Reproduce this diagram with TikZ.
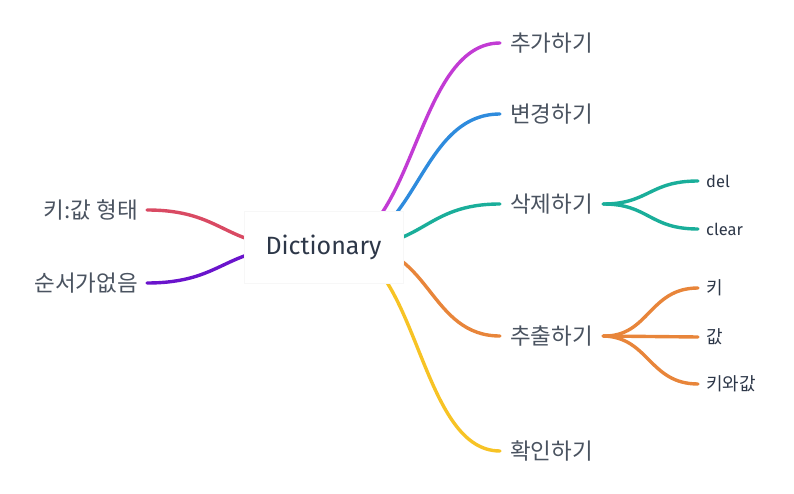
\documentclass[tikz,border=0pt]{standalone}
\usepackage{fontspec}
\setmainfont{Noto Sans CJK KR}
\newfontfamily\latinf{Fira Sans}
\usetikzlibrary{shadows}
\definecolor{cPurple}{HTML}{C23BD4}
\definecolor{cBlue}{HTML}{2E8BDD}
\definecolor{cTeal}{HTML}{1AAE9A}
\definecolor{cOrange}{HTML}{E8853A}
\definecolor{cYellow}{HTML}{F7C325}
\definecolor{cRed}{HTML}{D94A63}
\definecolor{cViolet}{HTML}{6A14CC}
\definecolor{txtMain}{HTML}{4A5360}
\definecolor{txtDark}{HTML}{2D3748}
\tikzset{
  branch/.style={line width=3.4pt, line cap=round},
  mainlbl/.style={anchor=west, inner xsep=10pt, inner ysep=0pt, text=txtMain, font=\fontsize{22.5}{26}\selectfont},
  leftlbl/.style={anchor=east, inner xsep=9pt, inner ysep=0pt, text=txtMain, font=\fontsize{22.5}{26}\selectfont},
  sublbl/.style={anchor=west, inner xsep=8pt, inner ysep=0pt, text=txtDark, font=\fontsize{18}{21}\selectfont},
  rootbox/.style={fill=white, draw=black!3, minimum width=159pt, minimum height=72pt, inner sep=0pt,
    drop shadow={opacity=0.06, shadow xshift=0pt, shadow yshift=-1pt}},
}
\begin{document}
\begin{tikzpicture}[x=1pt,y=-1pt]
\useasboundingbox (0,0) rectangle (794,494);
% sources behind root
\coordinate (sP) at (330,247);
\coordinate (sB) at (336,247);
\coordinate (sT) at (350,247);
\coordinate (sO) at (360,247);
\coordinate (sY) at (336,247);
\coordinate (sL) at (300,247);
% labels
\node[mainlbl] (add) at (500,43) {추가하기};
\node[mainlbl] (chg) at (500,114) {변경하기};
\node[mainlbl] (del) at (500,204) {삭제하기};
\node[mainlbl] (ext) at (500,336) {추출하기};
\node[mainlbl] (chk) at (500,451) {확인하기};
\node[leftlbl] (kv) at (147,210) {키:값 형태};
\node[leftlbl] (noord) at (147,283) {순서가없음};
\node[sublbl] (sdel) at (698,181) {\latinf\fontsize{16.5}{20}\selectfont del};
\node[sublbl] (sclr) at (698,229) {\latinf\fontsize{16.5}{20}\selectfont clear};
\node[sublbl] (skey) at (698,288) {키};
\node[sublbl] (sval) at (698,337) {값};
\node[sublbl] (skv) at (698,384) {키와값};
% main branches
\draw[branch, cPurple] (sP) .. controls (415,247) and (415,43) .. (add.west);
\draw[branch, cBlue] (sB) .. controls (418,247) and (418,114) .. (chg.west);
\draw[branch, cTeal] (sT) .. controls (425,247) and (425,204) .. (del.west);
\draw[branch, cOrange] (sO) .. controls (430,247) and (430,336) .. (ext.west);
\draw[branch, cYellow] (sY) .. controls (418,247) and (418,451) .. (chk.west);
\draw[branch, cRed] (sL) .. controls (223.5,247) and (223.5,210) .. (kv.east);
\draw[branch, cViolet] (sL) .. controls (223.5,247) and (223.5,283) .. (noord.east);
% sub branches
\draw[branch, cTeal] (del.east) .. controls (649,204) and (649,181) .. (sdel.west);
\draw[branch, cTeal] (del.east) .. controls (649,204) and (649,229) .. (sclr.west);
\draw[branch, cOrange] (ext.east) .. controls (649,337) and (649,288) .. (skey.west);
\draw[branch, cOrange] (ext.east) -- (sval.west);
\draw[branch, cOrange] (ext.east) .. controls (649,337) and (649,384) .. (skv.west);
% root
\node[rootbox] (root) at (323.5,247) {};
\node[text=txtDark, font=\latinf\fontsize{25}{29}\selectfont] (rootlbl) at (root.center) {Dictionary};
\end{tikzpicture}
\end{document}
